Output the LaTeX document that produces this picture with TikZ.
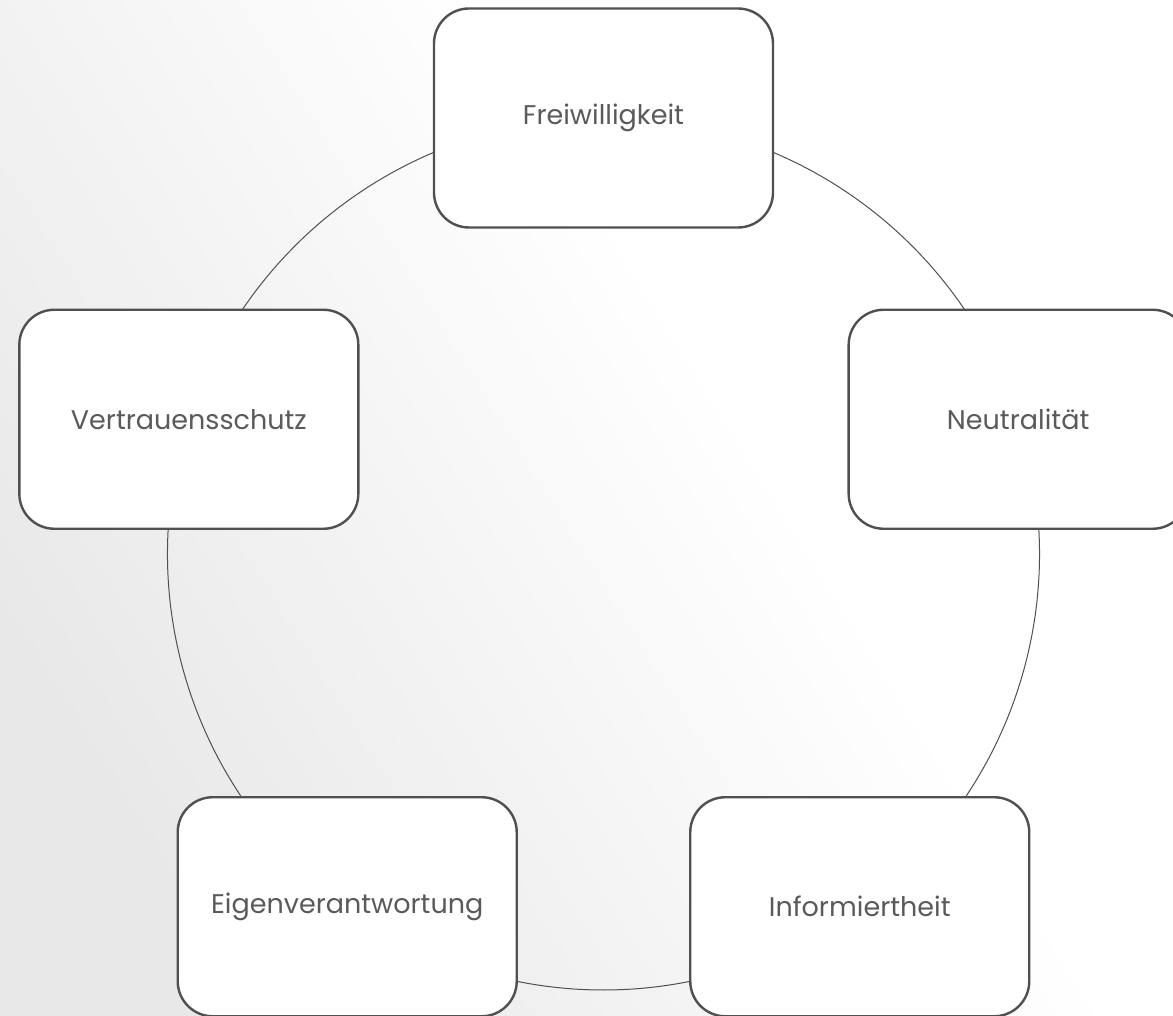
\documentclass[tikz,border=0pt]{standalone}
\usepackage{fontspec}
\setmainfont{Poppins}
\usetikzlibrary{positioning}
\definecolor{boxline}{HTML}{505050}
\definecolor{txt}{HTML}{5A5A5A}
\pgfdeclarelayer{back}
\pgfdeclarelayer{links}
\pgfsetlayers{back,links,main}
\pgfdeclarehorizontalshading{bgshade}{100bp}{color(0bp)=(black!10); color(25bp)=(black!9); color(58bp)=(white); color(100bp)=(white)}
\tikzset{
  pbox/.style={draw=boxline, line width=2.4pt, fill=white, rounded corners=35pt,
    minimum width=339pt, minimum height=219pt, inner sep=0pt,
    font=\fontsize{27}{32}\selectfont, text=txt},
  link/.style={draw=boxline, line width=1pt}
}
\begin{document}
\begin{tikzpicture}
\useasboundingbox (-603.5pt,-461pt) rectangle (569.5pt,554pt);
\clip (-603.5pt,-461pt) rectangle (569.5pt,554pt);
\begin{pgfonlayer}{back}
\shade[shading=bgshade, shading angle=32] (-603.5pt,-461pt) rectangle (569.5pt,554pt);
\end{pgfonlayer}
\node[pbox] (f) at (90:436pt) {Freiwilligkeit};
\node[pbox] (v) at (162:436pt) {Vertrauensschutz};
\node[pbox] (e) at (234:436pt) {Eigenverantwortung};
\node[pbox] (i) at (306:436pt) {Informiertheit};
\node[pbox] (n) at (18:436pt) {Neutralität};
\begin{pgfonlayer}{links}
\draw[link] (f.center) arc[start angle=90, end angle=162, radius=436pt];
\draw[link] (v.center) arc[start angle=162, end angle=234, radius=436pt];
\draw[link] (e.center) arc[start angle=234, end angle=306, radius=436pt];
\draw[link] (i.center) arc[start angle=306, end angle=378, radius=436pt];
\draw[link] (n.center) arc[start angle=18, end angle=90, radius=436pt];
\end{pgfonlayer}
\end{tikzpicture}
\end{document}
